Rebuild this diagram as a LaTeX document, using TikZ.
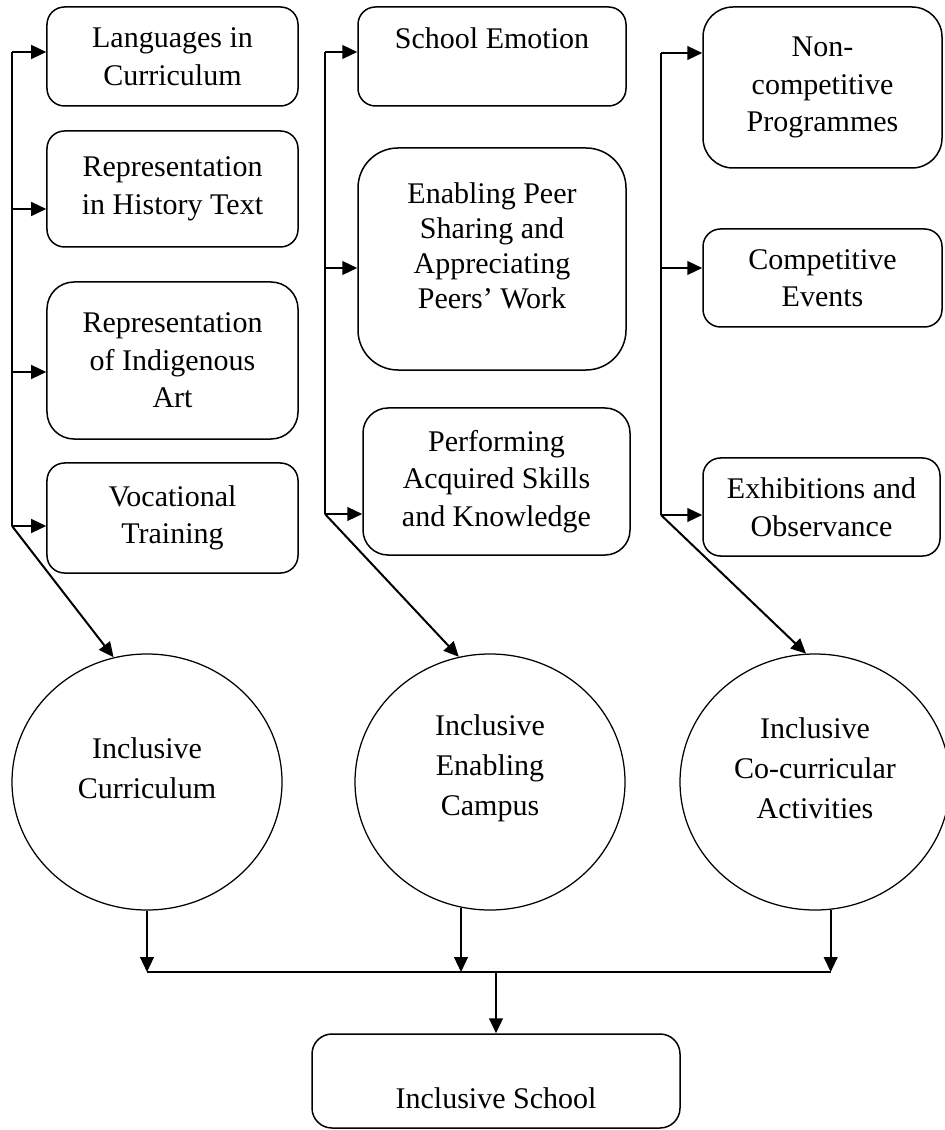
\documentclass[tikz,border=0pt]{standalone}
\usepackage{fontspec}
\setmainfont{Liberation Serif}
\usetikzlibrary{arrows.meta,shapes.geometric}
\begin{document}
\begin{tikzpicture}[x=0.4pt,y=-0.4pt,
  box/.style={draw, line width=0.6pt, rounded corners=7pt, align=center,
    inner sep=0pt, font=\fontsize{12pt}{15pt}\selectfont},
  circ/.style={draw, ellipse, line width=0.5pt, minimum width=108pt,
    minimum height=102.4pt, inner sep=0pt},
  ctext/.style={align=center, inner sep=0pt, font=\fontsize{12pt}{16pt}\selectfont},
  btext/.style={align=center, inner sep=0pt, font=\fontsize{12pt}{14pt}\selectfont},
  link/.style={line width=0.8pt},
  arr/.style={line width=0.8pt, -{Triangle[length=6pt,width=5.5pt]}}
]
% page
\fill[white] (0,0) rectangle (944,1130);
\useasboundingbox (0,0) rectangle (944,1130);

% curriculum column
\node[box, minimum width=100.4pt, minimum height=39.6pt] (B1) at (172.5,56.5) {Languages in\\Curriculum};
\node[box, minimum width=100.4pt, minimum height=46.4pt] (B2) at (172.5,189) {Representation\\in History Text};
\node[box, minimum width=100.4pt, minimum height=62.8pt, rounded corners=10.8pt] (B3) at (172.5,360.5) {Representation\\of Indigenous\\Art};
\node[box, minimum width=100.4pt, minimum height=44pt] (B4) at (172.5,518) {Vocational\\Training};

% campus column
\node[box, minimum width=107.2pt, minimum height=39.6pt] (C1) at (492,56.5) {School Emotion\\\mbox{}};
\node[box, minimum width=107.2pt, minimum height=88.8pt, rounded corners=16pt,
  label={[btext,yshift=5.2pt]center:Enabling Peer\\Sharing and\\Appreciating\\Peers’ Work}] (C2) at (492,259) {};
\node[box, minimum width=106.8pt, minimum height=58.8pt, rounded corners=10pt] (C3) at (496.5,481.5) {Performing\\Acquired Skills\\and Knowledge};

% co-curricular column
\node[box, minimum width=95.6pt, minimum height=64.4pt, rounded corners=12pt] (D1) at (822.5,87.5) {Non-\\competitive\\Programmes};
\node[box, minimum width=95.6pt, minimum height=39.2pt] (D2) at (822.5,278) {Competitive\\Events};
\node[box, minimum width=94.8pt, minimum height=39.2pt] (D3) at (821.5,507) {Exhibitions and\\Observance};

% the three pillars
\node[circ, label={[ctext,yshift=5.6pt]center:Inclusive\\Curriculum}] (E1) at (147,782) {};
\node[circ, label={[ctext,yshift=5.6pt]center:Inclusive\\Enabling\\Campus}] (E2) at (490,782) {};
\node[circ, label={[ctext,yshift=5.6pt]center:Inclusive\\Co-curricular\\Activities}] (E3) at (815,782) {};

% outcome
\node[box, minimum width=147.2pt, minimum height=37.6pt, rounded corners=8pt,
  label={[btext,yshift=-6.8pt]center:Inclusive School}] (S) at (496,1081) {};

% branching spines
\coordinate (p1) at (12,52);
\coordinate (p2) at (12,209);
\coordinate (p3) at (12,372);
\coordinate (p4) at (12,526);
\coordinate (q1) at (325,52);
\coordinate (q2) at (325,268);
\coordinate (q3) at (325,514);
\coordinate (r1) at (661,53);
\coordinate (r2) at (661,268);
\coordinate (r3) at (661,515);
\coordinate (bar) at (496,972);

\draw[link] (p1) -- (p4);
\draw[arr] (p1) -- (p1 -| B1.west);
\draw[arr] (p2) -- (p2 -| B2.west);
\draw[arr] (p3) -- (p3 -| B3.west);
\draw[arr] (p4) -- (p4 -| B4.west);
\draw[arr] (p4) -- (E1.105);

\draw[link] (q1) -- (q3);
\draw[arr] (q1) -- (q1 -| C1.west);
\draw[arr] (q2) -- (q2 -| C2.west);
\draw[arr] (q3) -- (q3 -| C3.west);
\draw[arr] (q3) -- (E2.104);

\draw[link] (r1) -- (r3);
\draw[arr] (r1) -- (r1 -| D1.west);
\draw[arr] (r2) -- (r2 -| D2.west);
\draw[arr] (r3) -- (r3 -| D3.west);
\draw[arr] (r3) -- (E3.94);

% merging into the school
\draw[arr] (E1.south) -- (E1.south |- bar);
\draw[arr] (E2.257) -- (E2.257 |- bar);
\draw[arr] (E3.277) -- (E3.277 |- bar);
\draw[link] (E1.south |- bar) -- (E3.277 |- bar);
\draw[arr] (bar) -- (S.north);
\end{tikzpicture}
\end{document}
